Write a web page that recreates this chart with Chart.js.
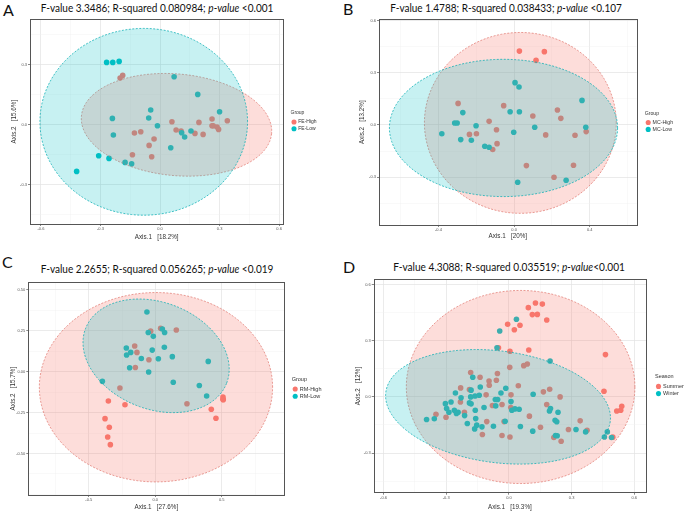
<!DOCTYPE html>
<html>
<head>
<meta charset="utf-8">
<script src="https://cdn.jsdelivr.net/npm/chart.js@4.4.1/dist/chart.umd.min.js"></script>
<style>
  html, body { margin: 0; padding: 0; background: #fff; }
  #fig { position: relative; width: 685px; height: 512px; overflow: hidden; }
  #fig canvas { position: absolute; }
  .tag { position: absolute; font: 16px Lato, sans-serif; line-height: 16px; color: #111; }
  .ttl { position: absolute; font: 11.5px Lato, sans-serif; line-height: 12px; color: #111; white-space: nowrap; transform-origin: 50% 50%; }
</style>
</head>
<body>
<div id="fig"></div>
<script>
const RED = '#F8766D', CYAN = '#00BFC4';

// panel texts
const tags = ['A', 'B', 'C', 'D'];
const fValues = ['3.3486', '1.4788', '2.2655', '4.3088'];
const rSquared = ['0.080984', '0.038433', '0.056265', '0.035519'];
const pValues = [' <0.001', ' <0.107', ' <0.019', '<0.001'];
const axis1Pct = ['18.2%', '20%', '27.6%', '19.3%'];
const axis2Pct = ['15.6%', '13.2%', '15.7%', '12%'];
const legendTitles = ['Group', 'Group', 'Group', 'Season'];
const groupNames = [['FE-High', 'FE-Low'], ['MC-High', 'MC-Low'], ['RM-High', 'RM-Low'], ['Summer', 'Winter']];

// A (FE)
const aHighX = [-0.201,-0.188,0.060,0.081,0.106,0.196,0.176,0.217,0.262,0.262,0.268,0.287,0.295,0.339,-0.129,-0.097,-0.030,-0.055,-0.139,-0.042];
const aHighY = [0.232,0.245,0.013,-0.028,-0.033,0.010,-0.045,-0.050,0.027,-0.007,-0.007,-0.013,-0.025,0.018,-0.043,-0.037,-0.073,-0.105,-0.152,-0.162];
const aLowX = [-0.269,-0.238,-0.206,0.071,0.190,0.300,-0.047,-0.240,-0.057,-0.013,-0.235,0.109,0.124,0.156,0.054,-0.309,-0.257,-0.176,-0.143,-0.420];
const aLowY = [0.310,0.310,0.315,0.238,0.150,0.063,0.072,0.030,0.032,-0.007,-0.053,-0.042,-0.063,-0.033,-0.117,-0.157,-0.170,-0.190,-0.197,-0.235];
// ellipse: centre x, centre y, first half-axis (x, y), second half-axis (x, y)
const aHighEllipse = [0.083, -0.002, 0.479, -0.044, -0.024, -0.253];
const aLowEllipse = [-0.082, 0.013, 0.523, 0, 0, 0.467];
const aXRange = [-0.655, 0.621], aYRange = [-0.498, 0.525];
const aXTicks = [-0.6, -0.3, 0, 0.3, 0.6], aYTicks = [-0.3, 0, 0.3];

// B (MC)
const bHighX = [0.028,0.160,0.116,-0.296,-0.055,0.229,0.247,0.099,-0.132,-0.093,-0.236,-0.199,-0.090,-0.113,0.167,0.322,0.381,0.065,0.314,0.211];
const bHighY = [0.424,0.421,0.371,0.124,0.111,0.086,0.038,0.052,0.021,-0.027,-0.054,-0.050,-0.107,-0.141,-0.057,-0.059,-0.038,-0.233,-0.231,-0.300];
const bLowX = [0.005,0.026,0.359,-0.271,-0.021,0.028,-0.314,-0.301,-0.201,0.109,0.379,-0.382,-0.282,-0.226,-0.155,-0.132,-0.002,0.019,0.275];
const bLowY = [0.243,0.218,0.141,0.071,0.076,0.076,0.011,0.011,-0.004,-0.013,-0.013,-0.050,-0.084,-0.088,-0.122,-0.128,-0.042,-0.329,-0.317];
const bHighEllipse = [0.033, 0.012, 0.507, 0, 0, 0.519];
const bLowEllipse = [-0.056, -0.017, 0.603, 0, 0, 0.394];
const bXRange = [-0.714, 0.648], bYRange = [-0.574, 0.606];
const bXTicks = [-0.4, 0, 0.4], bYTicks = [-0.3, 0, 0.3, 0.6];

// C (RM)
const cHighX = [-0.035,0.040,0.158,-0.155,-0.138,-0.048,-0.150,-0.266,0.238,-0.353,-0.228,-0.378,-0.346,-0.358,-0.338,0.509,0.509,0.511,0.421,0.456];
const cHighY = [0.248,0.265,0.255,0.157,0.118,0.073,0.026,-0.100,-0.196,-0.179,-0.202,-0.287,-0.340,-0.399,-0.446,-0.155,-0.169,-0.171,-0.230,-0.285];
const cLowX = [-0.063,-0.053,0.053,0.070,-0.015,-0.218,-0.185,-0.216,-0.023,0.068,-0.105,0.023,0.128,0.398,-0.193,-0.050,-0.398,0.135,0.331,0.386];
const cLowY = [0.365,0.240,0.261,0.240,0.216,0.145,0.118,0.102,0.132,0.149,0.081,0.079,0.092,0.063,0.024,-0.002,-0.059,-0.065,-0.084,-0.149];
const cHighEllipse = [0.005, -0.095, 0.877, 0, 0, 0.579];
const cLowEllipse = [0.006, 0.097, 0.530, -0.168, -0.146, -0.304];
const cXRange = [-0.955, 0.970], cYRange = [-0.754, 0.546];
const cXTicks = [-0.5, 0, 0.5], cYTicks = [-0.5, -0.25, 0, 0.25, 0.5];

// D (season)
const dSummerX = [0.127,0.160,0.093,0.112,0.136,0.181,-0.006,0.026,0.053,-0.050,0.005,0.095,0.071,0.088,0.004,0.462,0.455,0.516,0.535,0.540,-0.183,-0.138,-0.095,-0.060,-0.055,-0.094,-0.231,-0.189,0.045,0.010,0.165,0.195,0.245,-0.033,-0.079,0.009,-0.301,-0.349,-0.213,-0.232,-0.106,-0.023,0.098,0.181,0.151,-0.127,-0.033,0.005,0.215,0.250,0.285,0.341,0.374,0.497,-0.109];
const dSummerY = [0.502,0.496,0.477,0.440,0.441,0.411,0.388,0.359,0.383,0.263,0.244,0.251,0.167,0.176,0.158,0.226,0.030,-0.075,-0.071,-0.050,0.130,0.105,0.085,0.089,0.125,0.062,0.048,0.039,0.060,0.011,0.027,0.041,0.000,-0.041,-0.046,-0.057,-0.109,-0.093,-0.082,-0.027,-0.132,-0.132,-0.103,-0.041,-0.162,-0.201,-0.206,-0.214,-0.217,-0.237,-0.174,-0.128,-0.178,-0.215,0.011];
const dWinterX = [0.036,-0.044,-0.057,0.197,-0.173,-0.256,-0.229,-0.181,-0.183,-0.162,-0.142,-0.137,-0.189,-0.181,-0.304,-0.277,-0.298,-0.287,-0.261,-0.251,-0.243,-0.394,-0.357,-0.212,-0.199,-0.161,-0.159,-0.154,-0.164,-0.129,-0.119,-0.074,-0.065,-0.054,-0.063,-0.038,-0.015,0.010,0.014,0.029,0.049,-0.018,0.055,0.116,0.114,0.199,0.194,0.235,0.221,0.229,0.223,0.231,0.321,0.367,0.471,0.457,0.491];
const dWinterY = [0.415,0.352,0.263,0.192,0.105,0.021,-0.005,0.036,0.000,0.005,0.009,0.053,-0.032,-0.037,-0.036,-0.027,-0.062,-0.082,-0.071,-0.089,-0.082,-0.121,-0.117,-0.100,-0.142,-0.071,-0.116,-0.151,-0.171,-0.160,-0.057,-0.157,-0.014,-0.014,-0.048,0.021,0.046,-0.025,-0.071,-0.064,-0.066,-0.130,-0.158,0.014,-0.183,-0.062,-0.075,-0.082,-0.125,-0.133,-0.206,-0.208,-0.174,-0.187,-0.187,-0.214,-0.217];
const dSummerEllipse = [0.056, 0.053, 0.547, 0, 0, 0.516];
const dWinterEllipse = [-0.052, -0.053, 0.537, -0.078, -0.034, -0.296];
const dXRange = [-0.647, 0.656], dYRange = [-0.512, 0.628];
const dXTicks = [-0.6, -0.3, 0, 0.3, 0.6], dYTicks = [-0.3, 0, 0.3, 0.6];

const pts = (xs, ys) => xs.map((x, i) => ({ x, y: ys[i] }));

const panels = [
  { high: pts(aHighX, aHighY), low: pts(aLowX, aLowY), ell: [aHighEllipse, aLowEllipse],
    xr: aXRange, yr: aYRange, xt: aXTicks, yt: aYTicks, xDec: 1, yDec: 1,
    box: { left: 4, top: 16, width: 336, height: 226, padTop: 3.3, yW: 26, xH: 18, legW: 56.7, legGap: 7.2, yTitlePad: 6.8, xTitlePad: 1.1, legFont: 5 },
    tagPos: [3, 2], titlePos: [156.5, 2, 233] },
  { high: pts(bHighX, bHighY), low: pts(bLowX, bLowY), ell: [bHighEllipse, bLowEllipse],
    xr: bXRange, yr: bYRange, xt: bXTicks, yt: bYTicks, xDec: 1, yDec: 1,
    box: { left: 352, top: 16, width: 333, height: 226, padTop: 3.3, yW: 27, xH: 17, legW: 48.3, legGap: 8, yTitlePad: 6.5, xTitlePad: 2.1, legFont: 5.2 },
    tagPos: [343, 0.6], titlePos: [506, 2, 232] },
  { high: pts(cHighX, cHighY), low: pts(cLowX, cLowY), ell: [cHighEllipse, cLowEllipse],
    xr: cXRange, yr: cYRange, xt: cXTicks, yt: cYTicks, xDec: 1, yDec: 2,
    box: { left: 0, top: 279, width: 340, height: 233, padTop: 3.3, yW: 28.3, xH: 17, legW: 55.7, legGap: 7.4, yTitlePad: 9.1, xTitlePad: 1.1, legFont: 5.5 },
    tagPos: [2, 254], titlePos: [156.5, 263, 233] },
  { high: pts(dSummerX, dSummerY), low: pts(dWinterX, dWinterY), ell: [dSummerEllipse, dWinterEllipse],
    xr: dXRange, yr: dYRange, xt: dXTicks, yt: dYTicks, xDec: 1, yDec: 1,
    box: { left: 350, top: 276, width: 335, height: 236, padTop: 3, yW: 23.7, xH: 19.3, legW: 39, legGap: 9, yTitlePad: 4.1, xTitlePad: 0.5, legFont: 5.5 },
    tagPos: [343, 259], titlePos: [509, 261, 232] }
];

const isMajor = (major, v) => major.some(m => Math.abs(m - v) < 1e-6);

// major ticks plus the half-way minor grid lines, kept inside the range
function gridValues(major, lo, hi) {
  const half = (major[1] - major[0]) / 2;
  const vals = [];
  for (let k = -6; k <= major.length * 2 + 6; k++) {
    const v = +(major[0] + k * half).toFixed(4);
    if (v >= lo && v <= hi) vals.push(v);
  }
  return vals;
}

function axis(major, range, dec, title, size, titlePad, horizontal) {
  const maj = c => c.tick && isMajor(major, c.tick.value);
  return {
    type: 'linear', min: range[0], max: range[1], bounds: 'data',
    afterBuildTicks: s => { s.ticks = gridValues(major, range[0], range[1]).map(value => ({ value })); },
    afterFit: s => { if (horizontal) s.height = size; else s.width = size; },
    ticks: {
      autoSkip: false, maxRotation: 0, font: { size: 4 }, color: '#555', padding: horizontal ? 0.5 : 1,
      callback: v => isMajor(major, v) ? Number(v).toFixed(dec) : ''
    },
    grid: {
      color: c => maj(c) ? '#e3e3e3' : '#f1f1f1',
      lineWidth: c => maj(c) ? 0.7 : 0.4,
      tickColor: c => maj(c) ? '#555' : 'rgba(0,0,0,0)',
      tickLength: 2
    },
    border: { display: false },
    title: {
      display: true, text: title, font: { size: 6.3 }, color: '#333',
      padding: horizontal ? { top: 0, bottom: titlePad } : { top: titlePad, bottom: 0 }
    }
  };
}

// confidence ellipses drawn over the points, then the panel frame
const ellipseLayer = (shapes) => ({
  id: 'ellipses',
  afterDatasetsDraw(chart) {
    const { ctx, chartArea: a, scales: { x, y } } = chart;
    const fills = ['rgba(248,118,109,0.25)', 'rgba(0,191,196,0.22)'];
    const strokes = ['rgba(222,112,104,0.85)', 'rgba(0,172,177,0.9)'];
    ctx.save();
    ctx.beginPath(); ctx.rect(a.left, a.top, a.right - a.left, a.bottom - a.top); ctx.clip();
    shapes.forEach((s, k) => {
      const [cx, cy, ax, ay, bx, by] = s;
      ctx.beginPath();
      for (let i = 0; i <= 160; i++) {
        const t = i / 160 * Math.PI * 2;
        const px = x.getPixelForValue(cx + ax * Math.cos(t) + bx * Math.sin(t));
        const py = y.getPixelForValue(cy + ay * Math.cos(t) + by * Math.sin(t));
        if (i) ctx.lineTo(px, py); else ctx.moveTo(px, py);
      }
      ctx.closePath();
      ctx.fillStyle = fills[k]; ctx.fill();
      ctx.setLineDash([2, 1.5]); ctx.lineWidth = 0.8; ctx.strokeStyle = strokes[k]; ctx.stroke();
    });
    ctx.restore();
    ctx.save();
    ctx.strokeStyle = '#555'; ctx.lineWidth = 1;
    ctx.strokeRect(Math.round(a.left) + 0.5, Math.round(a.top) + 0.5, Math.round(a.right - a.left), Math.round(a.bottom - a.top));
    ctx.restore();
  }
});

// fixed legend width, legend starts a small gap right of the panel
const legendPlace = (w, gap) => ({
  id: 'legendPlace',
  beforeLayout(chart) {
    const lg = chart.legend;
    if (lg && !lg._fixedFit) {
      const fit = lg.fit;
      lg.fit = function () { fit.call(this); this.width = w; };
      lg._fixedFit = true;
    }
  },
  afterLayout(chart) {
    const lg = chart.legend;
    lg.left = chart.chartArea.right + gap;
    lg.right = lg.left + w;
  }
});

const fig = document.getElementById('fig');

panels.forEach((p, i) => {
  const b = p.box;

  const tag = document.createElement('div');
  tag.className = 'tag';
  tag.style.left = p.tagPos[0] + 'px'; tag.style.top = p.tagPos[1] + 'px';
  tag.textContent = tags[i];
  fig.appendChild(tag);

  const ttl = document.createElement('div');
  ttl.className = 'ttl';
  ttl.style.left = p.titlePos[0] + 'px'; ttl.style.top = p.titlePos[1] + 'px';
  ttl.append('F-value ' + fValues[i] + '; R-squared ' + rSquared[i] + '; ');
  const it = document.createElement('i'); it.textContent = 'p-value';
  ttl.append(it, pValues[i]);
  fig.appendChild(ttl);
  // squeeze to the narrow heading width of the original
  const k = p.titlePos[2] / ttl.offsetWidth;
  ttl.style.transform = 'translateX(-50%) scaleX(' + k.toFixed(3) + ')';

  const cv = document.createElement('canvas');
  cv.width = b.width; cv.height = b.height;
  cv.style.left = b.left + 'px'; cv.style.top = b.top + 'px';
  fig.appendChild(cv);

  new Chart(cv, {
    type: 'scatter',
    data: {
      datasets: [
        { label: groupNames[i][0], data: p.high, backgroundColor: RED, borderWidth: 0, pointRadius: 2.8, pointHoverRadius: 2.8, order: 1 },
        { label: groupNames[i][1], data: p.low, backgroundColor: CYAN, borderWidth: 0, pointRadius: 2.8, pointHoverRadius: 2.8, order: 0 }
      ]
    },
    options: {
      responsive: false, animation: false, devicePixelRatio: 1, events: [],
      font: { family: "'Liberation Sans', Arial, sans-serif" },
      layout: { padding: { top: b.padTop, left: 0, right: 0, bottom: 0 } },
      scales: {
        x: axis(p.xt, p.xr, p.xDec, 'Axis.1   [' + axis1Pct[i] + ']', b.xH, b.xTitlePad, true),
        y: axis(p.yt, p.yr, p.yDec, 'Axis.2   [' + axis2Pct[i] + ']', b.yW, b.yTitlePad, false)
      },
      plugins: {
        tooltip: { enabled: false },
        legend: {
          display: true, position: 'right', fullSize: false, align: 'center',
          labels: {
            usePointStyle: true, boxWidth: 3.6, boxHeight: 3.6, padding: 1.7,
            font: { size: b.legFont, family: "'Liberation Sans', Arial, sans-serif" }, color: '#333',
            sort: (x1, x2) => x1.datasetIndex - x2.datasetIndex
          },
          title: {
            display: true, text: legendTitles[i], position: 'start', color: '#333',
            font: { size: b.legFont, family: "'Liberation Sans', Arial, sans-serif" }, padding: { top: 0, bottom: 1.3 }
          }
        }
      }
    },
    plugins: [ellipseLayer(p.ell), legendPlace(b.legW, b.legGap)]
  });
});
</script>
</body>
</html>
